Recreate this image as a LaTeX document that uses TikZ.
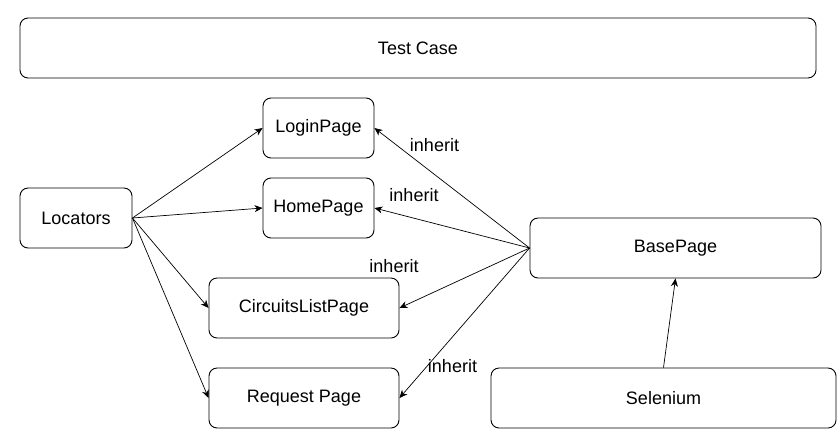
\documentclass[tikz,border=0pt]{standalone}
\usepackage{fontspec}
\setmainfont{Liberation Sans}
\usetikzlibrary{arrows.meta,positioning}

\begin{document}
\begin{tikzpicture}[x=1pt,y=-1pt,
    box/.style={draw,rounded corners=8pt,line width=0.9pt,inner sep=0pt,
                minimum height=60pt,font=\fontsize{18}{21}\selectfont},
    link/.style={-{Stealth[length=8pt,width=7pt,inset=2.5pt]},line width=0.7pt},
    tag/.style={font=\fontsize{18}{21}\selectfont,inner sep=0pt}]
  \useasboundingbox (0,0) rectangle (837,429);
  %% Top layer
  \node[box,minimum width=796pt] (test) at (418,48) {Test Case};
  %% Page objects
  \node[box,minimum width=111pt] (login) at (318.5,128) {LoginPage};
  \node[box,minimum width=111pt] (home) at (318.5,208) {HomePage};
  \node[box,minimum width=190pt] (circ) at (304,308) {CircuitsListPage};
  \node[box,minimum width=190pt] (req) at (304,398) {Request Page};
  %% Locators
  \node[box,minimum width=112pt] (loc) at (76,218) {Locators};
  %% Base layer
  \node[box,minimum width=291pt] (base) at (675.5,248) {BasePage};
  \node[box,minimum width=345pt] (sel) at (663.5,398) {Selenium};

  %% Arrows from locators
  \draw[link] (loc.east) -- (login.west);
  \draw[link] (loc.east) -- (home.west);
  \draw[link] (loc.east) -- (circ.west);
  \draw[link] (loc.east) -- (req.west);
  %% Inheritance
  \draw[link] (base.west) -- (login.east);
  \draw[link] (base.west) -- (home.east);
  \draw[link] (base.west) -- (circ.east);
  \draw[link] (base.west) -- (req.east);
  \draw[link] (sel.north) -- (base.south);

  %% Labels
  \node[tag] (lab1) at (434.5,145) {inherit};
  \node[tag] (lab2) at (414,195) {inherit};
  \node[tag] (lab3) at (394,266) {inherit};
  \node[tag] (lab4) at (452.5,366) {inherit};
\end{tikzpicture}
\end{document}
